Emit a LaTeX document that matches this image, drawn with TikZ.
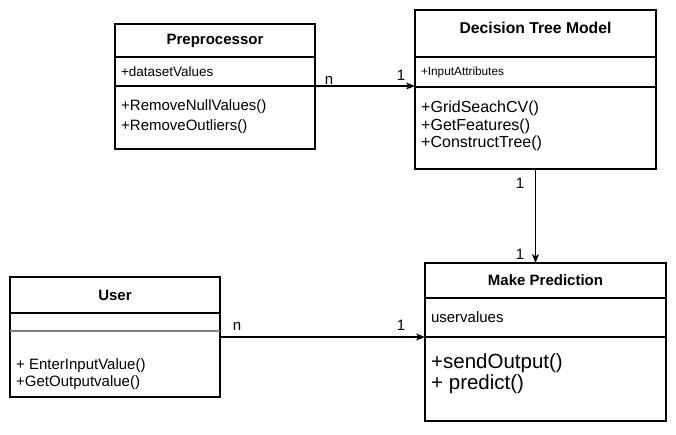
\documentclass[tikz,border=0pt]{standalone}
\usepackage{fontspec}
\setmainfont{Liberation Sans}
\usetikzlibrary{arrows.meta,positioning}

\tikzset{
  umlbox/.style={draw, line width=1.1pt, anchor=north west, inner sep=0pt, outer sep=0pt},
  umltitle/.style={umlbox, font=\fontsize{15}{18}\selectfont\bfseries},
  umlattr/.style={umlbox, inner xsep=6pt, align=left},
  opslist/.style={anchor=north west, inner sep=0pt, align=left},
  mult/.style={inner sep=0pt, font=\fontsize{15}{18}\selectfont},
  assoc/.style={line width=1.1pt, -{Stealth[length=9pt,width=7pt,inset=2.5pt]}},
  sepline/.style={line width=2pt, draw=black!50}
}

\begin{document}
\begin{tikzpicture}[x=1pt, y=1pt]
  \useasboundingbox (0,0) rectangle (676,-435);

  % preprocessor class
  \node[umltitle, minimum width=200pt, minimum height=33pt] (preptitle) at (115,-24) {Preprocessor};
  \node[umlattr, text width=188pt, minimum height=29pt, font=\fontsize{13.5}{16}\selectfont] (prepattr) at (preptitle.south west) {+datasetValues};
  \node[umlbox, minimum width=200pt, minimum height=63pt] (prepops) at (prepattr.south west) {};
  \node[opslist, font=\fontsize{15}{20}\selectfont] (prepopslist) at ([shift={(6pt,-13pt)}]prepops.north west) {+RemoveNullValues()\\+RemoveOutliers()};

  % decision tree model class
  \node[umlbox, minimum width=241pt, minimum height=47pt] (dtmtitle) at (415,-10) {};
  \node[anchor=base, inner sep=0pt, font=\fontsize{15.7}{19}\selectfont\bfseries] (dtmname) at ([yshift=-24pt]dtmtitle.north) {Decision Tree Model};
  \node[umlattr, text width=229pt, minimum height=30pt, font=\fontsize{11.8}{14}\selectfont] (dtmattr) at (dtmtitle.south west) {+InputAttributes};
  \node[umlbox, minimum width=241pt, minimum height=82pt] (dtmops) at (dtmattr.south west) {};
  \node[opslist, font=\fontsize{16}{17.5}\selectfont] (dtmopslist) at ([shift={(6pt,-14pt)}]dtmops.north west) {+GridSeachCV()\\+GetFeatures()\\+ConstructTree()};

  % user class
  \node[umltitle, minimum width=210pt, minimum height=36pt] (usertitle) at (10,-277) {User};
  \node[umlbox, minimum width=210pt, minimum height=18pt] (userattr) at (usertitle.south west) {};
  \node[umlbox, minimum width=210pt, minimum height=66pt] (userops) at (userattr.south west) {};
  \draw[sepline] (userops.north west) -- (userops.north east);
  \node[opslist, font=\fontsize{15}{17.5}\selectfont] (useropslist) at ([shift={(6pt,-27pt)}]userops.north west) {+ EnterInputValue()\\+GetOutputvalue()};

  % make prediction class
  \node[umltitle, minimum width=241pt, minimum height=35pt] (mptitle) at (425,-263) {Make Prediction};
  \node[umlattr, text width=229pt, minimum height=39pt, font=\fontsize{15}{18}\selectfont] (mpattr) at (mptitle.south west) {uservalues};
  \node[umlbox, minimum width=241pt, minimum height=84pt] (mpops) at (mpattr.south west) {};
  \node[opslist, font=\fontsize{20.5}{21.5}\selectfont] (mpopslist) at ([shift={(6pt,-16pt)}]mpops.north west) {+sendOutput()\\+ predict()};

  % associations
  \draw[assoc] (prepops.north east) -- (prepops.north east -| dtmops.west);
  \draw[assoc] (dtmops.south) -- (dtmops.south |- mptitle.north);
  \draw[assoc] (userops.east |- mpops.north) -- (mpops.north west);

  % multiplicities
  \node[mult] (prepn) at (329,-80) {n};
  \node[mult] (dtmone) at (401,-75.5) {1};
  \node[mult] (dtmbottom) at (520,-183) {1};
  \node[mult] (mptop) at (520,-254) {1};
  \node[mult] (usern) at (237,-326) {n};
  \node[mult] (mpone) at (401,-325) {1};
\end{tikzpicture}
\end{document}
